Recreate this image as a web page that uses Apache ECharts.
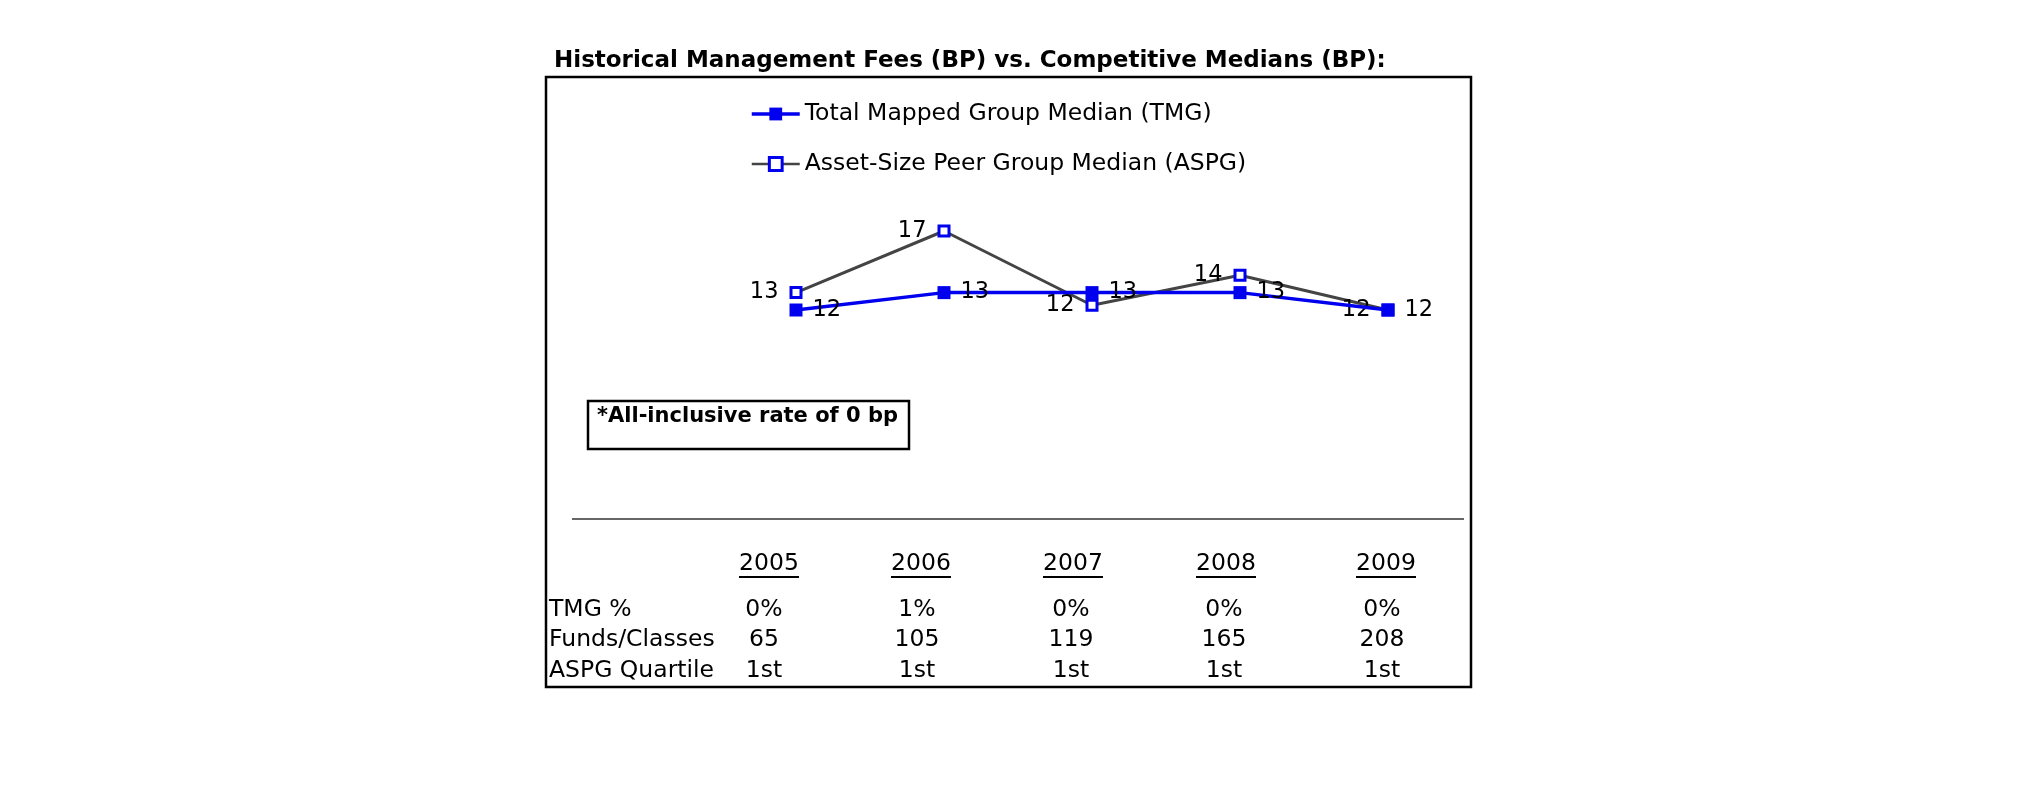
<!DOCTYPE html>
<html><head><meta charset="utf-8">
<script src="https://cdn.jsdelivr.net/npm/echarts@6/dist/echarts.min.js"></script>
<style>html,body{margin:0;padding:0;background:#fff}#c{width:2025px;height:806px}</style>
</head><body><div id="c"></div>
<script>
// ---- data ----
const years = ['2005', '2006', '2007', '2008', '2009'];
const tmgValues = [12.0, 13.1, 13.1, 13.1, 12.0];
const aspgValues = [13.1, 17.0, 12.3, 14.2, 12.0];
const rowLabels = ['TMG %', 'Funds/Classes', 'ASPG Quartile'];
const tmgPct = ['0%', '1%', '0%', '0%', '0%'];
const fundsClasses = ['65', '105', '119', '165', '208'];
const aspgQuartile = ['1st', '1st', '1st', '1st', '1st'];
const noteText = '*All-inclusive rate of 0 bp';
const titleText = 'Historical Management Fees (BP) vs. Competitive Medians (BP):';
const tmgName = 'Total Mapped Group Median (TMG)';
const aspgName = 'Asset-Size Peer Group Median (ASPG)';

// ---- layout ----
const FONT = '"DejaVu Sans", Verdana, sans-serif';
const yearX = [769, 921, 1073, 1226, 1386];
const valX = [764, 917, 1071, 1224, 1382];
const rowY = [610, 640, 671];
const yearY = 564;
const BLUE = '#0000ee';

const chart = echarts.init(document.getElementById('c'), null, {renderer: 'canvas'});

const graphics = [];
// outer box
graphics.push({type: 'rect', shape: {x: 546, y: 77, width: 925, height: 610},
  style: {fill: 'none', stroke: '#000', lineWidth: 2.5}, z: 1});
// separator line
graphics.push({type: 'line', shape: {x1: 572, y1: 519, x2: 1464, y2: 519},
  style: {stroke: '#333', lineWidth: 1.5}});
// note box
graphics.push({type: 'rect', shape: {x: 588, y: 401, width: 321, height: 48},
  style: {fill: '#fff', stroke: '#000', lineWidth: 2.5}});
graphics.push({type: 'text', x: 597, y: 417,
  style: {text: noteText, font: 'bold 21px ' + FONT, fill: '#000', textVerticalAlign: 'middle'}});
// table: years with underline
years.forEach((y, i) => {
  graphics.push({type: 'text', x: yearX[i], y: yearY,
    style: {text: y, font: '23.5px ' + FONT, fill: '#000', textAlign: 'center', textVerticalAlign: 'middle'}});
  graphics.push({type: 'line', shape: {x1: yearX[i] - 30, y1: yearY + 13, x2: yearX[i] + 30, y2: yearY + 13},
    style: {stroke: '#000', lineWidth: 2}});
});
const rows = [tmgPct, fundsClasses, aspgQuartile];
rowLabels.forEach((lab, r) => {
  graphics.push({type: 'text', x: 549, y: rowY[r],
    style: {text: lab, font: '23.5px ' + FONT, fill: '#000', textVerticalAlign: 'middle'}});
  rows[r].forEach((v, i) => {
    graphics.push({type: 'text', x: valX[i], y: rowY[r],
      style: {text: v, font: '23.5px ' + FONT, fill: '#000', textAlign: 'center', textVerticalAlign: 'middle'}});
  });
});

const option = {
  backgroundColor: '#fff',
  animation: false,
  title: {text: titleText, left: 554, top: 50, padding: 0,
    textStyle: {fontFamily: FONT, fontWeight: 'bold', fontSize: 23, color: '#000'}},
  legend: {
    orient: 'vertical', left: 750, top: 102, padding: 0, itemWidth: 48, itemHeight: 16, itemGap: 26,
    textStyle: {fontFamily: FONT, fontSize: 23.5, color: '#000'},
    data: [
      {name: tmgName, lineStyle: {width: 3.5, color: BLUE}, itemStyle: {color: BLUE}},
      {name: aspgName, lineStyle: {width: 2.5, color: '#444'}, itemStyle: {color: '#fff', borderColor: BLUE, borderWidth: 3}}
    ]
  },
  grid: {left: 796, right: 637, top: 183.6, bottom: 401.2},
  xAxis: {type: 'category', data: years, boundaryGap: false, show: false},
  yAxis: {type: 'value', min: 6, max: 20, show: false},
  series: [
    {
      name: tmgName, type: 'line', data: tmgValues,
      symbol: 'rect', symbolSize: 13, z: 4,
      lineStyle: {color: BLUE, width: 3.5},
      itemStyle: {color: BLUE},
      label: {show: true, position: 'right', distance: 10, fontFamily: FONT, fontSize: 22.5, color: '#000',
        formatter: p => Math.round(p.value)}
    },
    {
      name: aspgName, type: 'line', data: aspgValues,
      symbol: 'rect', symbolSize: 10, z: 3,
      lineStyle: {color: '#444', width: 3},
      itemStyle: {color: '#fff', borderColor: BLUE, borderWidth: 3},
      label: {show: true, position: 'left', distance: 11, fontFamily: FONT, fontSize: 22.5, color: '#000',
        formatter: p => Math.round(p.value)}
    }
  ],
  graphic: {elements: graphics}
};
chart.setOption(option);
</script></body></html>
